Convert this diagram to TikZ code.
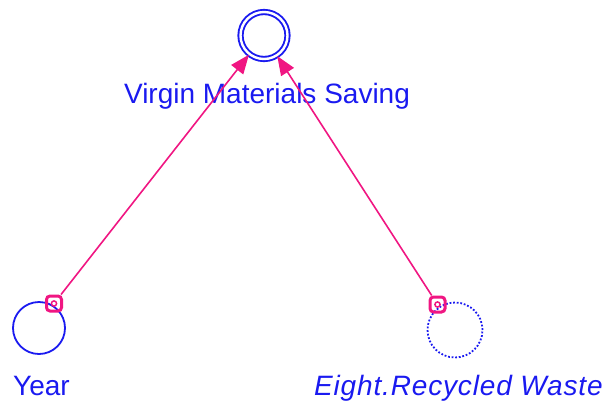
\documentclass[tikz,border=0pt]{standalone}
\usepackage{fontspec}
\usepackage{tikz}
\usetikzlibrary{arrows.meta, positioning}
\newfontfamily\diagfont{Liberation Sans}
\newfontfamily\diagitfont[LetterSpace=3]{Liberation Sans Italic}
\definecolor{cblue}{RGB}{26,26,240}
\definecolor{cpink}{RGB}{240,22,130}

\begin{document}
\begin{tikzpicture}[
  x=1pt, y=-1pt,
  font=\diagfont\fontsize{28}{30}\selectfont,
  converter/.style={
    circle, draw=cblue, line width=1.8pt, minimum size=#1, inner sep=0pt
  },
  ghost/.style={
    circle, draw=cblue, line width=1.8pt, dash pattern=on 1.8pt off 1.8pt,
    minimum size=#1, inner sep=0pt
  },
  outnode/.style={
    circle, draw=cblue, line width=1.9pt, double=white, double distance=2.4pt,
    minimum size=47pt, inner sep=0pt
  },
  linkend/.style={
    rectangle, rounded corners=3.5pt, draw=cpink, line width=3pt,
    minimum size=15pt, inner sep=0pt,
    path picture={\draw[cpink, line width=1.5pt]
      (path picture bounding box.center) circle (2.6pt);}
  },
  link/.style={
    draw=cpink, line width=1.6pt,
    -{Triangle[length=19pt, width=15pt]}
  },
  varlabel/.style={cblue, inner sep=0pt}
]
\useasboundingbox (0,0) rectangle (604,400);

% ============================================================
% converters
% ============================================================
\node[outnode] (saving) at (264, 35.5) {};
\node[converter=52pt] (year) at (39, 328) {};
\node[ghost=55pt] (waste) at (455, 330) {};

% labels
\node[varlabel, anchor=base] (savinglabel) at (267, 103) {Virgin Materials Saving};
\node[varlabel, anchor=base west] (yearlabel) at (13, 395) {Year};
\node[varlabel, anchor=base west, font=\diagitfont\fontsize{28}{30}\selectfont]
  (wastelabel) at (314, 395) {Eight.Recycled Waste};

% ============================================================
% connectors
% ============================================================
\node[linkend] (yearlink) at (54, 303.5) {};
\node[linkend] (wastelink) at (437.5, 304.5) {};

\draw[link] (yearlink) -- (saving);
\draw[link] (wastelink) -- (saving);

\end{tikzpicture}
\end{document}
